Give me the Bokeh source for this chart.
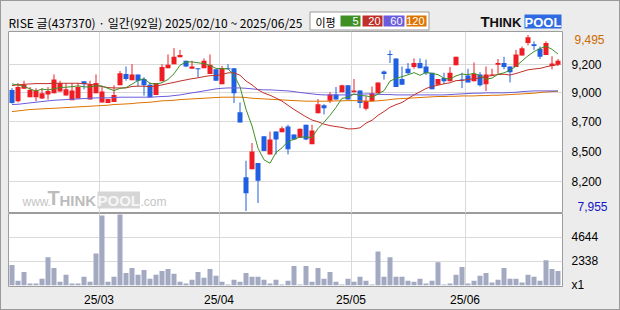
import numpy as np
import pandas as pd
from bokeh.plotting import figure
from bokeh.layouts import column
from bokeh.models import Range1d, FixedTicker, Label, ColumnDataSource, LinearAxis
from bokeh.core.properties import value
from bokeh.embed import file_html
from bokeh.resources import INLINE

# ---------------- data ----------------
title_text = "RISE 글(437370) · 일간(92일) 2025/02/10 ~ 2025/06/25"
start_date = "2025-02-10"
end_date = "2025-06-25"
holidays = ["2025-03-03", "2025-05-01", "2025-05-05", "2025-05-06", "2025-06-03", "2025-06-06"]

opens = [9015, 8915, 9025, 8950, 8950, 8940, 8975, 8985, 9000, 8965,
         8925, 8940, 9090, 8930, 8985, 8905, 8900, 8910, 9055, 9155,
         9100, 9150, 9110, 9060, 8970, 9090, 9205, 9240, 9300, 9270,
         9200, 9205, 9205, 9155, 9195, 9065, 9205, 9205, 8820, 8250,
         8320, 8375, 8610, 8450, 8650, 8645, 8695, 8625, 8595, 8710,
         8540, 8810, 8880, 8920, 8975, 8995, 9055, 8995, 9010, 8850,
         8915, 8985, 9175, 9330, 9290, 9110, 9200, 9215, 9250, 9220,
         9165, 9060, 9120, 9090, 9230, 9105, 9140, 9090, 9150, 9065,
         9145, 9235, 9250, 9220, 9215, 9315, 9425, 9415, 9375, 9320,
         9225, 9235]
highs = [9030, 9075, 9095, 9040, 9030, 9030, 9040, 9150, 9095, 9075,
         9075, 9075, 9090, 9095, 9150, 9040, 8935, 9055, 9180, 9220,
         9240, 9150, 9125, 9080, 9075, 9240, 9325, 9380, 9365, 9270,
         9270, 9205, 9290, 9325, 9195, 9225, 9240, 9205, 8905, 8395,
         8550, 8375, 8610, 8650, 8650, 8695, 8710, 8625, 8675, 8710,
         8710, 8935, 8890, 8995, 9040, 9060, 9055, 9110, 9010, 8960,
         9045, 9080, 9185, 9360, 9290, 9220, 9250, 9290, 9290, 9280,
         9165, 9110, 9165, 9215, 9305, 9165, 9200, 9255, 9170, 9220,
         9200, 9285, 9305, 9220, 9365, 9395, 9495, 9440, 9395, 9440,
         9310, 9285]
lows = [8895, 8905, 9025, 8950, 8915, 8935, 8930, 8985, 9000, 8965,
        8925, 8940, 9020, 8930, 8985, 8905, 8900, 8910, 9055, 9095,
        9100, 9045, 8965, 8950, 8970, 9090, 9205, 9240, 9300, 9215,
        9200, 9125, 9205, 9155, 9095, 9065, 9195, 8900, 8730, 7955,
        8320, 8025, 8480, 8450, 8450, 8645, 8450, 8575, 8595, 8575,
        8540, 8810, 8800, 8900, 8930, 8995, 8930, 8995, 8855, 8835,
        8915, 8985, 9105, 9250, 9040, 9060, 9155, 9200, 9205, 9145,
        9020, 9060, 9065, 9090, 9230, 9030, 9080, 9090, 9045, 9005,
        9145, 9155, 9195, 9080, 9215, 9315, 9405, 9365, 9285, 9320,
        9195, 9225]
closes = [8900, 9040, 9060, 9015, 9010, 8985, 9005, 9105, 9075, 9020,
          9010, 9040, 9065, 9065, 9075, 9000, 8935, 8970, 9160, 9110,
          9150, 9095, 9055, 8950, 9075, 9215, 9235, 9305, 9320, 9220,
          9220, 9195, 9270, 9235, 9095, 9205, 9195, 8985, 8730, 8110,
          8475, 8220, 8480, 8580, 8580, 8680, 8495, 8580, 8675, 8580,
          8660, 8890, 8855, 8975, 8930, 9055, 8930, 9010, 8900, 8920,
          8985, 9080, 9155, 9320, 9040, 9060, 9160, 9250, 9205, 9160,
          9020, 9110, 9090, 9165, 9305, 9100, 9080, 9155, 9055, 9150,
          9150, 9250, 9215, 9170, 9325, 9380, 9475, 9400, 9305, 9425,
          9245, 9270]
volumes = [1947, 440, 1287, 157, 157, 628, 2700, 1664, 345, 1005,
           157, 157, 816, 345, 3077, 6751, 345, 816, 6845, 1193,
           1664, 1005, 1476, 628, 1005, 1382, 1570, 1099, 345, 157,
           534, 1287, 722, 1570, 911, 345, 63, 534, 345, 1193,
           816, 816, 534, 157, 534, 63, 440, 1853, 63, 1853,
           345, 1664, 628, 1287, 345, 63, 628, 345, 816, 440,
           63, 3266, 816, 2700, 816, 816, 440, 345, 628, 157,
           440, 2229, 63, 157, 1005, 1758, 157, 440, 911, 1193,
           251, 534, 1664, 628, 628, 251, 1005, 816, 440, 2418,
           1570, 1382]
# moving-average values before enough history is on the chart
ma5_head = [9067, 9059, 9044, 9024]
ma20_head = [9053, 9059, 9064, 9067, 9070, 9070, 9070, 9073, 9073, 9073,
             9073, 9073, 9070, 9064, 9056, 9044, 9035, 9032, 9032]
ma60 = [8887, 8889, 8895, 8901, 8907, 8913, 8919, 8924, 8927, 8930,
        8933, 8936, 8939, 8942, 8945, 8945, 8945, 8948, 8951, 8951,
        8951, 8951, 8951, 8951, 8954, 8957, 8959, 8965, 8971, 8980,
        8989, 8997, 9006, 9015, 9024, 9029, 9032, 9032, 9032, 9029,
        9024, 9018, 9015, 9015, 9012, 9009, 9006, 9000, 8992, 8986,
        8980, 8974, 8971, 8971, 8971, 8971, 8971, 8974, 8977, 8980,
        8980, 8977, 8974, 8974, 8971, 8971, 8971, 8971, 8971, 8971,
        8971, 8971, 8971, 8974, 8977, 8980, 8983, 8986, 8986, 8989,
        8989, 8989, 8989, 8992, 8994, 9000, 9003, 9006, 9006, 9006,
        9006, 9006]
ma120 = [8825, 8831, 8837, 8843, 8846, 8849, 8852, 8854, 8857, 8860,
         8863, 8866, 8869, 8872, 8875, 8878, 8881, 8887, 8889, 8892,
         8895, 8901, 8904, 8907, 8913, 8919, 8921, 8924, 8930, 8933,
         8936, 8939, 8942, 8945, 8948, 8951, 8951, 8951, 8951, 8948,
         8942, 8939, 8936, 8933, 8930, 8927, 8924, 8921, 8919, 8916,
         8916, 8916, 8916, 8916, 8919, 8919, 8921, 8921, 8919, 8916,
         8916, 8919, 8924, 8930, 8936, 8939, 8942, 8945, 8948, 8951,
         8954, 8957, 8957, 8959, 8959, 8962, 8962, 8962, 8965, 8965,
         8968, 8968, 8971, 8974, 8977, 8980, 8983, 8986, 8992, 8997,
         9000, 9003]
price_max_label = "9,495"
price_min_label = "7,955"
price_max = 9495
price_min = 7955
price_tick_pos = [9241, 8996, 8742, 8480, 8217]
price_tick_labels = ["9,200", "9,000", "8,700", "8,500", "8,200"]
vol_tick_pos = [0, 2338, 4644]
vol_tick_labels = ["x1", "2338", "4644"]
legend_names = ["5", "20", "60", "120"]

# ---------------- derived ----------------
dates = pd.bdate_range(start_date, end_date)
dates = dates[~dates.isin(pd.to_datetime(holidays))]
n = len(closes)
idx = np.arange(n)
cl = pd.Series(closes, dtype=float)
ma5 = cl.rolling(5).mean().to_numpy()
ma5[:len(ma5_head)] = ma5_head
ma20 = cl.rolling(20).mean().to_numpy()
ma20[:len(ma20_head)] = ma20_head

month_pos, month_lab = [], []
for i in range(1, len(dates)):
    if dates[i].month != dates[i - 1].month:
        month_pos.append(i - 0.5)
        month_lab.append(dates[i].strftime("%y/%m"))

# ---------------- style ----------------
W, H = 620, 310
IW = W - 2          # inside the 1px page border
BG = "#ececec"
GRID = "#d9d9d9"
FRAME = "#9c9c9c"
RED = "#ee1d23"
BLUE = "#1f5fe2"
VOLC = "#a2a9c1"
MA_COLORS = ["#3f8f24", "#c0302a", "#6a5cdc", "#dd7400"]
AXF = "Liberation Sans"
CJK = "Noto Sans CJK KR"
PX = 6.0  # pixels per trading day
LEFT, RIGHT = 7, 57
FRAME_W = IW - LEFT - RIGHT
x_start = -3.5 / PX
xr = Range1d(x_start, x_start + FRAME_W / PX)
P_TOP, P_BOT, P_H = 9526, 7933, 182
PPX = (P_TOP - P_BOT) / P_H  # price per pixel
FL, FR = 1 + LEFT, 1 + LEFT + FRAME_W   # frame edges in page pixels


def style_axis(a, standoff, color="#000000"):
    a.major_tick_out = 0
    a.major_tick_in = 0
    a.minor_tick_out = 0
    a.minor_tick_in = 0
    a.axis_line_color = None
    a.major_label_standoff = standoff
    a.major_label_text_font = AXF
    a.major_label_text_font_size = "12px"
    a.major_label_text_color = color


# ---------------- header ----------------
hdr = figure(width=IW, height=30, x_range=Range1d(FL, FR), y_range=Range1d(31, 1),
             toolbar_location=None, output_backend="svg",
             min_border_left=LEFT, min_border_right=RIGHT, min_border_top=0, min_border_bottom=0,
             x_axis_location=None, y_axis_location=None, outline_line_color=None,
             background_fill_color=BG, border_fill_color=BG)
hdr.grid.visible = False
hdr.text(x=[8], y=[22], text=[title_text], text_font=value(CJK), text_font_size="12px",
         text_baseline="middle", text_align="left", text_color="#000000")
hdr.quad(left=[309.5], right=[428.5], top=[11.5], bottom=[29.5], fill_color="white",
         line_color="#9a9a9a", line_width=1)
hdr.text(x=[315], y=[21], text=["이평"], text_font=value(CJK), text_font_size="11px",
         text_baseline="middle", text_align="left", text_color="#000000")
cell_l = [340, 362, 383, 406]
cell_r = [360, 382, 404, 426]
hdr.quad(left=cell_l, right=cell_r, top=[15] * 4, bottom=[26] * 4, fill_color=MA_COLORS,
         line_color=None)
hdr.text(x=[r - 2 for r in cell_r], y=[20.5] * 4, text=legend_names, text_font=value(AXF),
         text_font_size="11px", text_baseline="middle", text_align="right", text_color="white")
hdr.text(x=[480], y=[21], text=["T"], text_font=value(AXF), text_font_size="15px",
         text_font_style="bold", text_baseline="middle", text_color="#111111")
hdr.text(x=[489], y=[21.5], text=["HINK"], text_font=value(AXF), text_font_size="13px",
         text_font_style="bold", text_baseline="middle", text_color="#111111")
hdr.quad(left=[524], right=[561], top=[14], bottom=[28], fill_color="#2f6be0", line_color=None)
hdr.text(x=[542.5], y=[21.5], text=["POOL"], text_font=value(AXF), text_font_size="13px",
         text_font_style="bold", text_baseline="middle", text_align="center",
         text_color="white")

# ---------------- price panel ----------------
p = figure(width=IW, height=P_H, x_range=xr, y_range=Range1d(P_BOT, P_TOP),
           toolbar_location=None, output_backend="svg",
           min_border_left=LEFT, min_border_right=RIGHT, min_border_top=0, min_border_bottom=0,
           x_axis_location=None, y_axis_location="right",
           background_fill_color="white", border_fill_color=BG,
           outline_line_color=FRAME, outline_line_width=1)
ay = p.yaxis[0]
ay.ticker = FixedTicker(ticks=price_tick_pos)
ay.major_label_overrides = {k: v for k, v in zip(price_tick_pos, price_tick_labels)}
style_axis(ay, 9)
p.ygrid.grid_line_color = GRID
p.xgrid.ticker = FixedTicker(ticks=month_pos)
p.xgrid.grid_line_color = GRID

# max / min price labels: two more right axes that take no width and whose
# labels step back onto the first axis' column
for val, lab, col, shift in [(price_max, price_max_label, "#cc6a00", -4),
                             (price_min, price_min_label, "#1414c8", 4)]:
    tick = round(val + shift * PPX)
    ext = LinearAxis(ticker=FixedTicker(ticks=[tick]), major_label_overrides={tick: lab})
    style_axis(ext, -30, col)
    p.add_layout(ext, "right")

# watermark
p.add_layout(Label(x=14, y=5, x_units="screen", y_units="screen", text="www.",
                   text_font=AXF, text_font_size="12px", text_color="#c4c4c4"))
p.add_layout(Label(x=39, y=5, x_units="screen", y_units="screen", text="T",
                   text_font=AXF, text_font_size="20px", text_font_style="bold",
                   text_color="#bcbcbc"))
p.add_layout(Label(x=51, y=5, x_units="screen", y_units="screen", text="HINK",
                   text_font=AXF, text_font_size="15px", text_font_style="bold",
                   text_color="#bcbcbc"))
p.add_layout(Label(x=89, y=5, x_units="screen", y_units="screen", text="POOL",
                   text_font=AXF, text_font_size="15px", text_font_style="bold",
                   text_color="#f6f6f6", background_fill_color="#d6d6d6"))
p.add_layout(Label(x=132, y=5, x_units="screen", y_units="screen", text=".com",
                   text_font=AXF, text_font_size="12px", text_color="#c4c4c4"))

up = [c >= o for o, c in zip(opens, closes)]
body_top = [max(o, c) for o, c in zip(opens, closes)]
body_bot = [min(o, c) for o, c in zip(opens, closes)]
body_bot = [min(b, t - PPX) for b, t in zip(body_bot, body_top)]
colors = [RED if u else BLUE for u in up]
src = ColumnDataSource(dict(x=idx, top=body_top, bottom=body_bot, high=highs, low=lows,
                            color=colors))
p.segment(x0="x", x1="x", y0="high", y1="low", line_color="color", line_width=1, source=src)
p.vbar(x="x", width=5 / PX, top="top", bottom="bottom", fill_color="color",
       line_color=None, source=src)
for arr, col in zip([ma120, ma60, ma20, ma5], MA_COLORS[::-1]):
    p.line(idx, arr, line_color=col, line_width=1)

# ---------------- volume panel ----------------
pv = figure(width=IW, height=96, x_range=xr, y_range=Range1d(-125, 6939),
            toolbar_location=None, output_backend="svg",
            min_border_left=LEFT, min_border_right=RIGHT, min_border_top=0, min_border_bottom=21,
            y_axis_location="right", x_axis_location="below",
            background_fill_color="white", border_fill_color=BG,
            outline_line_color=FRAME, outline_line_width=1)
pv.vbar(x=idx, top=volumes, width=5 / PX, fill_color=VOLC, line_color=None)
av = pv.yaxis[0]
av.ticker = FixedTicker(ticks=vol_tick_pos)
av.major_label_overrides = {k: v for k, v in zip(vol_tick_pos, vol_tick_labels)}
ax = pv.xaxis[0]
ax.ticker = FixedTicker(ticks=month_pos)
ax.major_label_overrides = {k: v for k, v in zip(month_pos, month_lab)}
style_axis(av, 9)
style_axis(ax, 6)
pv.ygrid.ticker = FixedTicker(ticks=vol_tick_pos[1:])
pv.ygrid.grid_line_color = GRID
pv.xgrid.grid_line_color = GRID

layout = column(hdr, p, pv, spacing=0, width=W, height=H,
                styles={"border": "1px solid #9a9a9a", "box-sizing": "border-box",
                        "background-color": BG})
open("out.html", "w").write(file_html(layout, INLINE))
